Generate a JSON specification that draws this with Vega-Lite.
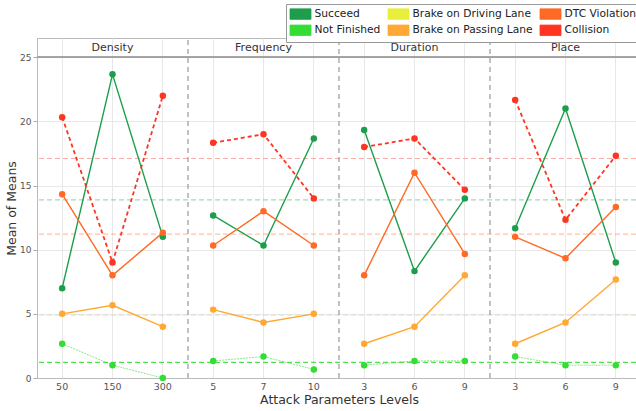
{
  "$schema": "https://vega.github.io/schema/vega-lite/v6.json",
  "width": 599,
  "height": 340,
  "autosize": {"type": "none"},
  "padding": {"left": 37, "top": 38, "right": 0, "bottom": 33},
  "config": {
    "font": "DejaVu Sans",
    "view": {"stroke": "#bbbbbb"},
    "axis": {
      "labelFont": "DejaVu Sans",
      "titleFont": "DejaVu Sans",
      "labelFontSize": 9,
      "labelColor": "#555555",
      "tickColor": "#aaaaaa",
      "domainColor": "#bbbbbb",
      "gridColor": "#e8e8e8",
      "titleFontSize": 12.5,
      "titleColor": "#333333",
      "titleFontWeight": "normal"
    },
    "legend": {
      "labelFont": "DejaVu Sans",
      "labelFontSize": 10.7,
      "labelColor": "#222222"
    }
  },
  "datasets": {
    "main": [
      {"p": "Density", "k": "Density|50", "o": 1, "s": "Succeed", "v": 7},
      {"p": "Density", "k": "Density|50", "o": 1, "s": "Not Finished", "v": 2.67},
      {"p": "Density", "k": "Density|50", "o": 1, "s": "Brake on Passing Lane", "v": 5},
      {"p": "Density", "k": "Density|50", "o": 1, "s": "DTC Violation", "v": 14.33},
      {"p": "Density", "k": "Density|50", "o": 1, "s": "Collision", "v": 20.33},
      {"p": "Density", "k": "Density|150", "o": 2, "s": "Succeed", "v": 23.67},
      {"p": "Density", "k": "Density|150", "o": 2, "s": "Not Finished", "v": 1},
      {"p": "Density", "k": "Density|150", "o": 2, "s": "Brake on Passing Lane", "v": 5.67},
      {"p": "Density", "k": "Density|150", "o": 2, "s": "DTC Violation", "v": 8},
      {"p": "Density", "k": "Density|150", "o": 2, "s": "Collision", "v": 9},
      {"p": "Density", "k": "Density|300", "o": 3, "s": "Succeed", "v": 11},
      {"p": "Density", "k": "Density|300", "o": 3, "s": "Not Finished", "v": 0},
      {"p": "Density", "k": "Density|300", "o": 3, "s": "Brake on Passing Lane", "v": 4},
      {"p": "Density", "k": "Density|300", "o": 3, "s": "DTC Violation", "v": 11.33},
      {"p": "Density", "k": "Density|300", "o": 3, "s": "Collision", "v": 22},
      {"p": "Frequency", "k": "Frequency|5", "o": 1, "s": "Succeed", "v": 12.67},
      {"p": "Frequency", "k": "Frequency|5", "o": 1, "s": "Not Finished", "v": 1.33},
      {"p": "Frequency", "k": "Frequency|5", "o": 1, "s": "Brake on Passing Lane", "v": 5.33},
      {"p": "Frequency", "k": "Frequency|5", "o": 1, "s": "DTC Violation", "v": 10.33},
      {"p": "Frequency", "k": "Frequency|5", "o": 1, "s": "Collision", "v": 18.33},
      {"p": "Frequency", "k": "Frequency|7", "o": 2, "s": "Succeed", "v": 10.33},
      {"p": "Frequency", "k": "Frequency|7", "o": 2, "s": "Not Finished", "v": 1.67},
      {"p": "Frequency", "k": "Frequency|7", "o": 2, "s": "Brake on Passing Lane", "v": 4.33},
      {"p": "Frequency", "k": "Frequency|7", "o": 2, "s": "DTC Violation", "v": 13},
      {"p": "Frequency", "k": "Frequency|7", "o": 2, "s": "Collision", "v": 19},
      {"p": "Frequency", "k": "Frequency|10", "o": 3, "s": "Succeed", "v": 18.67},
      {"p": "Frequency", "k": "Frequency|10", "o": 3, "s": "Not Finished", "v": 0.67},
      {"p": "Frequency", "k": "Frequency|10", "o": 3, "s": "Brake on Passing Lane", "v": 5},
      {"p": "Frequency", "k": "Frequency|10", "o": 3, "s": "DTC Violation", "v": 10.33},
      {"p": "Frequency", "k": "Frequency|10", "o": 3, "s": "Collision", "v": 14},
      {"p": "Duration", "k": "Duration|3", "o": 1, "s": "Succeed", "v": 19.33},
      {"p": "Duration", "k": "Duration|3", "o": 1, "s": "Not Finished", "v": 1},
      {"p": "Duration", "k": "Duration|3", "o": 1, "s": "Brake on Passing Lane", "v": 2.67},
      {"p": "Duration", "k": "Duration|3", "o": 1, "s": "DTC Violation", "v": 8},
      {"p": "Duration", "k": "Duration|3", "o": 1, "s": "Collision", "v": 18},
      {"p": "Duration", "k": "Duration|6", "o": 2, "s": "Succeed", "v": 8.33},
      {"p": "Duration", "k": "Duration|6", "o": 2, "s": "Not Finished", "v": 1.33},
      {"p": "Duration", "k": "Duration|6", "o": 2, "s": "Brake on Passing Lane", "v": 4},
      {"p": "Duration", "k": "Duration|6", "o": 2, "s": "DTC Violation", "v": 16},
      {"p": "Duration", "k": "Duration|6", "o": 2, "s": "Collision", "v": 18.67},
      {"p": "Duration", "k": "Duration|9", "o": 3, "s": "Succeed", "v": 14},
      {"p": "Duration", "k": "Duration|9", "o": 3, "s": "Not Finished", "v": 1.33},
      {"p": "Duration", "k": "Duration|9", "o": 3, "s": "Brake on Passing Lane", "v": 8},
      {"p": "Duration", "k": "Duration|9", "o": 3, "s": "DTC Violation", "v": 9.67},
      {"p": "Duration", "k": "Duration|9", "o": 3, "s": "Collision", "v": 14.67},
      {"p": "Place", "k": "Place|3", "o": 1, "s": "Succeed", "v": 11.67},
      {"p": "Place", "k": "Place|3", "o": 1, "s": "Not Finished", "v": 1.67},
      {"p": "Place", "k": "Place|3", "o": 1, "s": "Brake on Passing Lane", "v": 2.67},
      {"p": "Place", "k": "Place|3", "o": 1, "s": "DTC Violation", "v": 11},
      {"p": "Place", "k": "Place|3", "o": 1, "s": "Collision", "v": 21.67},
      {"p": "Place", "k": "Place|6", "o": 2, "s": "Succeed", "v": 21},
      {"p": "Place", "k": "Place|6", "o": 2, "s": "Not Finished", "v": 1},
      {"p": "Place", "k": "Place|6", "o": 2, "s": "Brake on Passing Lane", "v": 4.33},
      {"p": "Place", "k": "Place|6", "o": 2, "s": "DTC Violation", "v": 9.33},
      {"p": "Place", "k": "Place|6", "o": 2, "s": "Collision", "v": 12.33},
      {"p": "Place", "k": "Place|9", "o": 3, "s": "Succeed", "v": 9},
      {"p": "Place", "k": "Place|9", "o": 3, "s": "Not Finished", "v": 1},
      {"p": "Place", "k": "Place|9", "o": 3, "s": "Brake on Passing Lane", "v": 7.67},
      {"p": "Place", "k": "Place|9", "o": 3, "s": "DTC Violation", "v": 13.33},
      {"p": "Place", "k": "Place|9", "o": 3, "s": "Collision", "v": 17.33}
    ],
    "means": [
      {"s": "Succeed", "m": 13.89},
      {"s": "Not Finished", "m": 1.22},
      {"s": "Brake on Passing Lane", "m": 4.89},
      {"s": "DTC Violation", "m": 11.22},
      {"s": "Collision", "m": 17.11}
    ],
    "seps": [
      {"k": "Frequency|5"},
      {"k": "Duration|3"},
      {"k": "Place|3"}
    ],
    "heads": [
      {"p": "Density", "k": "Density|150"},
      {"p": "Frequency", "k": "Frequency|7"},
      {"p": "Duration", "k": "Duration|6"},
      {"p": "Place", "k": "Place|6"}
    ]
  },
  "encoding": {
    "color": {
      "field": "s",
      "type": "nominal",
      "scale": {
        "domain": ["Succeed", "Brake on Driving Lane", "DTC Violation", "Not Finished", "Brake on Passing Lane", "Collision"],
        "range": ["#1c9e4c", "#e8ef3a", "#ff6a26", "#33dd33", "#ffa833", "#ff3522"]
      },
      "legend": {
        "title": null,
        "orient": "none",
        "legendX": 249,
        "legendY": -34,
        "direction": "horizontal",
        "columns": 3,
        "columnPadding": 5,
        "rowPadding": 2.3,
        "padding": 4,
        "strokeColor": "#999999",
        "fillColor": "#ffffff",
        "labelOffset": 12.5,
        "symbolType": "M-2,-1H2V1H-2Z",
        "symbolSize": 110,
        "encode": {
          "symbols": {
            "update": {
              "fill": {"scale": "color", "field": "value"},
              "stroke": {"value": "#333333"},
              "strokeWidth": {"value": 0.8},
              "opacity": {"value": 1},
              "shape": {"value": "M-2,-1H2V1H-2Z"},
              "size": {"value": 110},
              "x": {"value": 10.5}
            }
          }
        }
      }
    }
  },
  "layer": [
    {
      "data": {"name": "means"},
      "transform": [{"filter": "datum.s !== 'Not Finished'"}],
      "mark": {"type": "rule", "strokeDash": [5, 3], "strokeWidth": 1.2, "opacity": 0.4},
      "encoding": {
        "y": {"field": "m", "type": "quantitative", "scale": {"domain": [0, 26.5], "nice": false}, "axis": {"values": [0, 5, 10, 15, 20, 25], "title": "Mean of Means", "tickSize": 4, "labelPadding": 2, "titlePadding": 1}, "title": "Mean of Means"}
      }
    },
    {
      "data": {"name": "means"},
      "transform": [{"filter": "datum.s === 'Not Finished'"}],
      "mark": {"type": "rule", "strokeDash": [5, 3], "strokeWidth": 1.2, "opacity": 0.85},
      "encoding": {
        "y": {"field": "m", "type": "quantitative", "title": "Mean of Means"}
      }
    },
    {
      "data": {"name": "seps"},
      "mark": {"type": "rule", "strokeDash": [5, 4], "strokeWidth": 1.2, "color": "#999999"},
      "encoding": {
        "color": {"value": "#999999"},
        "x": {"field": "k", "type": "nominal", "bandPosition": 0, "title": "Attack Parameters Levels",
          "scale": {"type": "band", "domain": ["Density|50", "Density|150", "Density|300", "Frequency|5", "Frequency|7", "Frequency|10", "Duration|3", "Duration|6", "Duration|9", "Place|3", "Place|6", "Place|9"], "range": [0, 604], "paddingInner": 0, "paddingOuter": 0},
          "axis": {"labelExpr": "split(datum.label, '|')[1]", "labelAngle": 0, "ticks": false, "bandPosition": 0.5, "grid": true, "labelPadding": 3, "titlePadding": 3, "labelFontSize": 9.5}},
        "y": {"datum": 0, "type": "quantitative"},
        "y2": {"datum": 26.5}
      }
    },
    {
      "data": {"name": "heads"},
      "mark": {"type": "rule", "color": "#a0a0a0", "strokeWidth": 1.3},
      "encoding": {
        "color": {"value": "#a0a0a0"},
        "y": {"datum": 25, "type": "quantitative"}
      }
    },
    {
      "data": {"name": "heads"},
      "mark": {"type": "text", "fontSize": 11, "color": "#333333", "baseline": "middle", "align": "center"},
      "encoding": {
        "color": {"value": "#333333"},
        "x": {"field": "k", "type": "nominal", "title": "Attack Parameters Levels"},
        "y": {"datum": 25.75, "type": "quantitative"},
        "text": {"field": "p"}
      }
    },
    {
      "data": {"name": "main"},
      "transform": [{"filter": "datum.s !== 'Not Finished' && datum.s !== 'Collision'"}],
      "mark": {"type": "line", "strokeWidth": 1.4},
      "encoding": {
        "x": {"field": "k", "type": "nominal", "title": "Attack Parameters Levels"},
        "y": {"field": "v", "type": "quantitative", "title": "Mean of Means"},
        "detail": {"field": "p"},
        "order": {"field": "o", "type": "quantitative"}
      }
    },
    {
      "data": {"name": "main"},
      "transform": [{"filter": "datum.s === 'Not Finished'"}],
      "mark": {"type": "line", "strokeWidth": 1, "opacity": 0.6, "strokeDash": [2, 1]},
      "encoding": {
        "x": {"field": "k", "type": "nominal", "title": "Attack Parameters Levels"},
        "y": {"field": "v", "type": "quantitative", "title": "Mean of Means"},
        "detail": {"field": "p"},
        "order": {"field": "o", "type": "quantitative"}
      }
    },
    {
      "data": {"name": "main"},
      "transform": [{"filter": "datum.s === 'Collision'"}],
      "mark": {"type": "line", "strokeWidth": 1.8, "strokeDash": [4, 3]},
      "encoding": {
        "x": {"field": "k", "type": "nominal", "title": "Attack Parameters Levels"},
        "y": {"field": "v", "type": "quantitative", "title": "Mean of Means"},
        "detail": {"field": "p"},
        "order": {"field": "o", "type": "quantitative"}
      }
    },
    {
      "data": {"name": "main"},
      "mark": {"type": "point", "filled": true, "size": 42, "opacity": 1},
      "encoding": {
        "x": {"field": "k", "type": "nominal", "title": "Attack Parameters Levels"},
        "y": {"field": "v", "type": "quantitative", "title": "Mean of Means"}
      }
    }
  ]
}
